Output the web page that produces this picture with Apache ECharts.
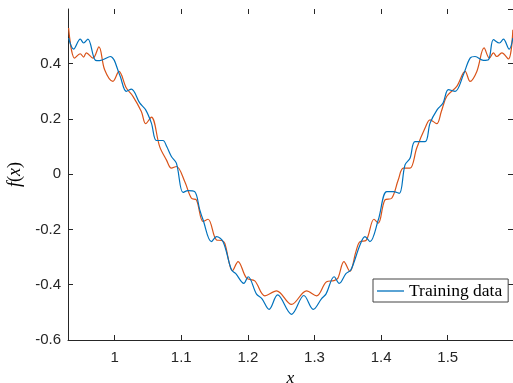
<!DOCTYPE html>
<html>
<head>
<meta charset="utf-8">
<script src="https://cdn.jsdelivr.net/npm/echarts@6/dist/echarts.min.js"></script>
<style>
html,body{margin:0;padding:0;background:#fff;}
#c{width:513px;height:383px;}
</style>
</head>
<body>
<div id="c"></div>
<script>
// Blue series ("Training data")
var blueX = [0.9309,0.9384,0.9484,0.9534,0.9599,0.9714,0.9775,0.9935,1.0075,1.0176,
  1.0251,1.0376,1.0466,1.0552,1.0627,1.0726,1.0782,1.0852,1.0927,1.1027,
  1.1102,1.1202,1.1278,1.1327,1.1453,1.1529,1.1628,1.1754,1.1819,1.1939,
  1.2004,1.2130,1.2210,1.2319,1.2446,1.2656,1.2841,1.2981,1.3107,1.3172,
  1.3296,1.3371,1.3472,1.3547,1.3683,1.3758,1.3833,1.3958,1.4084,1.4183,
  1.4273,1.4359,1.4434,1.4509,1.4660,1.4735,1.4840,1.4930,1.5010,1.5111,
  1.5235,1.5336,1.5411,1.5536,1.5611,1.5686,1.5776,1.5836,1.5922,1.5978];
var blueY = [0.493,0.453,0.489,0.475,0.489,0.412,0.411,0.426,0.360,0.300,
  0.308,0.258,0.233,0.185,0.122,0.122,0.100,0.064,0.040,-0.066,
  -0.059,-0.063,-0.129,-0.165,-0.244,-0.226,-0.244,-0.346,-0.360,-0.395,
  -0.371,-0.434,-0.450,-0.489,-0.437,-0.507,-0.439,-0.489,-0.450,-0.434,
  -0.371,-0.395,-0.360,-0.346,-0.256,-0.226,-0.244,-0.165,-0.063,-0.063,
  -0.069,0.034,0.058,0.118,0.118,0.185,0.233,0.258,0.306,0.300,
  0.360,0.420,0.426,0.412,0.414,0.487,0.475,0.489,0.453,0.493];
// Orange series
var orangeX = [0.9309,0.9399,0.9484,0.9534,0.9575,0.9674,0.9764,0.9850,0.9974,1.0065,
  1.0176,1.0275,1.0401,1.0466,1.0552,1.0676,1.0777,1.0852,1.0927,1.1052,
  1.1153,1.1228,1.1327,1.1402,1.1529,1.1608,1.1653,1.1769,1.1853,1.1980,
  1.2104,1.2255,1.2430,1.2656,1.2881,1.3032,1.3182,1.3292,1.3352,1.3442,
  1.3532,1.3622,1.3683,1.3773,1.3893,1.3958,1.4058,1.4159,1.4258,1.4333,
  1.4434,1.4535,1.4660,1.4735,1.4835,1.4904,1.4986,1.5136,1.5261,1.5336,
  1.5437,1.5546,1.5626,1.5686,1.5737,1.5812,1.5912,1.5978];
var orangeY = [0.529,0.420,0.436,0.424,0.439,0.420,0.461,0.378,0.336,0.372,
  0.312,0.282,0.227,0.183,0.207,0.100,0.052,0.022,0.028,-0.026,
  -0.087,-0.093,-0.171,-0.163,-0.238,-0.240,-0.250,-0.349,-0.316,-0.376,
  -0.386,-0.440,-0.422,-0.471,-0.422,-0.440,-0.389,-0.385,-0.376,-0.316,
  -0.352,-0.280,-0.244,-0.240,-0.163,-0.177,-0.093,-0.087,-0.020,0.022,
  0.022,0.095,0.167,0.197,0.183,0.227,0.282,0.318,0.372,0.336,
  0.372,0.457,0.420,0.439,0.426,0.439,0.417,0.523];
var legendName = 'Training data';
var xRange = [0.93, 1.598];
var yRange = [-0.6, 0.598];

function pairs(xs, ys){ var o=[]; for(var i=0;i<xs.length;i++) o.push([xs[i], ys[i]]); return o; }

var axisColor = '#262626';
var serif = 'Liberation Serif';
var sans = 'Liberation Sans';
var chart = echarts.init(document.getElementById('c'), null, {renderer:'canvas'});
var tick = {show:true, inside:true, length:5, lineStyle:{color:axisColor, width:1}};
chart.setOption({
  animation:false,
  backgroundColor:'#fff',
  grid:{left:68, right:0, top:9, bottom:43, containLabel:false, outerBoundsMode:'none'},
  legend:{
    data:[legendName], left:373, top:279, orient:'horizontal',
    padding:[3,6,2,4], itemWidth:27, itemHeight:1.3, icon:'rect',
    borderColor:'#444', borderWidth:1, backgroundColor:'#fff',
    textStyle:{fontFamily:serif, fontSize:17.5, color:'#000'}
  },
  xAxis:[{
    type:'value', min:xRange[0], max:xRange[1], splitNumber:6,
    axisLine:{show:true, onZero:false, lineStyle:{color:axisColor, width:1}},
    axisTick:tick, splitLine:{show:false},
    axisLabel:{show:true, showMinLabel:false, showMaxLabel:false, margin:10, color:axisColor, fontFamily:sans, fontSize:15},
    name:'x', nameLocation:'middle', nameGap:25,
    nameTextStyle:{fontFamily:serif, fontStyle:'italic', fontSize:17.5, color:'#000'}
  },{
    type:'value', position:'top', min:xRange[0], max:xRange[1], splitNumber:6,
    axisLine:{show:false, onZero:false}, axisTick:tick, axisLabel:{show:false}, splitLine:{show:false}
  }],
  yAxis:[{
    type:'value', min:yRange[0], max:yRange[1], interval:0.2,
    axisLine:{show:true, onZero:false, lineStyle:{color:axisColor, width:1}},
    axisTick:tick, splitLine:{show:false},
    axisLabel:{show:true, showMaxLabel:false, margin:7, color:axisColor, fontFamily:sans, fontSize:15},
    name:'{i|f}{n|(}{i|x}{n|)}', nameLocation:'middle', nameGap:38, nameRotate:90,
    nameTextStyle:{fontFamily:serif, fontSize:18, color:'#000',
      rich:{i:{fontFamily:serif, fontStyle:'italic', fontSize:18, color:'#000'},
            n:{fontFamily:serif, fontStyle:'normal', fontSize:18, color:'#000'}}}
  },{
    type:'value', position:'right', min:yRange[0], max:yRange[1], interval:0.2,
    axisLine:{show:false, onZero:false}, axisTick:tick, axisLabel:{show:false}, splitLine:{show:false}
  }],
  series:[{
    name:legendName, type:'line', xAxisIndex:0, yAxisIndex:0,
    data:pairs(blueX, blueY), smooth:0.35, symbol:'none',
    lineStyle:{color:'#0072BD', width:1.2}, itemStyle:{color:'#0072BD'}, z:3
  },{
    name:'Prediction', type:'line', xAxisIndex:0, yAxisIndex:0,
    data:pairs(orangeX, orangeY), smooth:0.35, symbol:'none',
    lineStyle:{color:'#D95319', width:1.2}, itemStyle:{color:'#D95319'}, z:2
  }]
});
</script>
</body>
</html>
